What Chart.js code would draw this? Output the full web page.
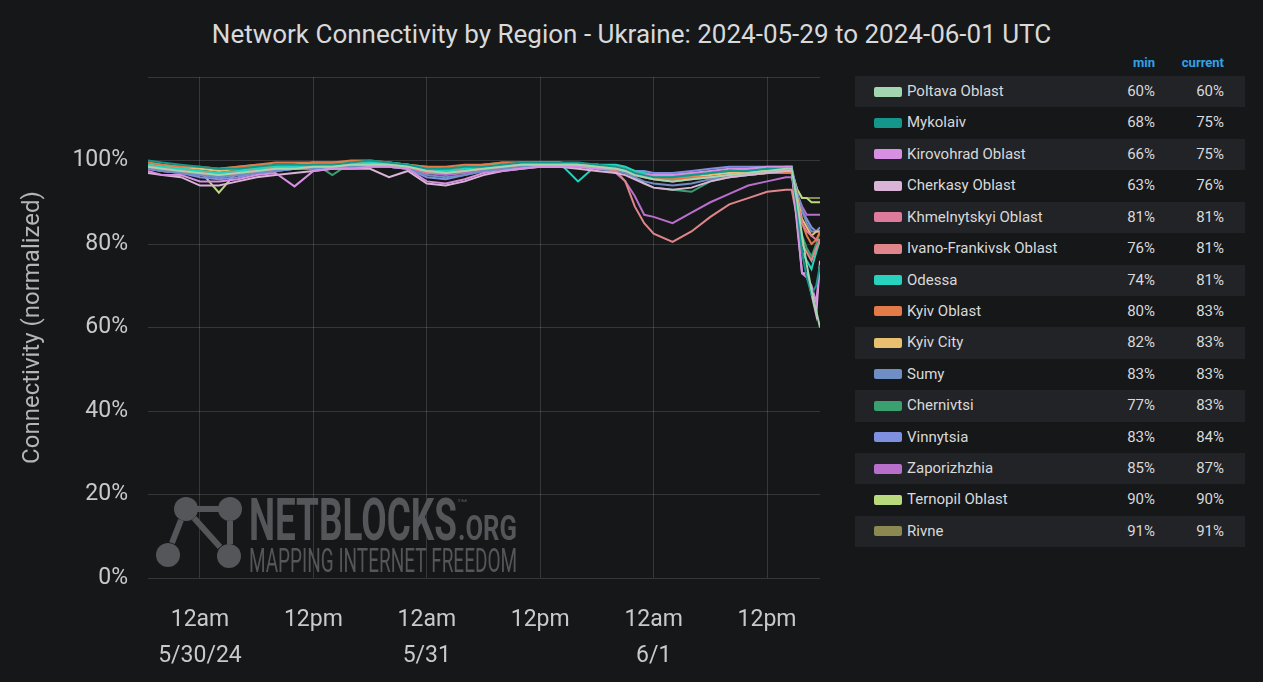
<!DOCTYPE html>
<html lang="en">
<head>
  <meta charset="UTF-8">
  <title>Network Connectivity by Region - Ukraine</title>
  <script src="https://cdn.jsdelivr.net/npm/chart.js"></script>
  <style>
    html, body { margin: 0; padding: 0; background: #161719; }
    #page { position: relative; width: 1263px; height: 682px; overflow: hidden; font-family: Roboto, "Noto Sans", sans-serif; }
    #title { position: absolute; top: 19px; left: 0; width: 1263px; text-align: center; font-size: 26px; line-height: 30px; color: #d8d9da; }
    #chartBox { position: absolute; left: 0; top: 0; width: 840px; height: 682px; }
    #legend { position: absolute; left: 855px; top: 51px; width: 390px; }
    .head { position: relative; height: 25px; color: #33a2e5; font-size: 13px; font-weight: bold; }
    .head span { position: absolute; top: 4px; }
    .row { position: relative; height: 31.43px; color: #d8d9da; font-size: 15px; }
    .row.alt { background: #222326; }
    .row .sw { position: absolute; left: 19px; top: 10.5px; width: 28px; height: 10px; border-radius: 2px; }
    .row .nm { position: absolute; left: 52px; top: 6px; }
    .row .mn { position: absolute; right: 90px; top: 6px; }
    .row .cu { position: absolute; right: 21px; top: 6px; }
  </style>
</head>
<body>
<div id="page">
  <div id="title">Network Connectivity by Region - Ukraine: 2024-05-29 to 2024-06-01 UTC</div>
  <div id="chartBox"><canvas id="conn" width="840" height="682"></canvas></div>
  <div id="legend">
    <div class="head"><span style="right:90px">min</span><span style="right:21px">current</span></div>
  </div>
</div>

<script>
  // hours since 2024-05-30 00:00 UTC
  const hours = [
    -5.5, -4, -2, 0, 2, 4, 6, 8, 10, 12, 14,
    16, 18, 20, 22, 24, 26, 28, 30, 32, 34, 36,
    38, 40, 42, 44, 45, 46, 47, 48, 50, 52, 54,
    56, 58, 60, 62, 62.6, 63.2, 63.7, 64.2, 64.7, 65.2, 65.6
  ];

  const regions = ['Poltava Oblast', 'Mykolaiv', 'Kirovohrad Oblast', 'Cherkasy Oblast', 'Khmelnytskyi Oblast',
    'Ivano-Frankivsk Oblast', 'Odessa', 'Kyiv Oblast', 'Kyiv City', 'Sumy', 'Chernivtsi', 'Vinnytsia',
    'Zaporizhzhia', 'Ternopil Oblast', 'Rivne'];

  const colors = ['#a1d6ae', '#14968a', '#d78fe3', '#dab4d6', '#de7a9c', '#e0868a', '#27d3bf', '#e37b48',
    '#e9c070', '#6e8ec4', '#3aa070', '#8090e0', '#b86fcb', '#b9da7c', '#8c8852'];

  const minPct = [60, 68, 66, 63, 81, 76, 74, 80, 82, 83, 77, 83, 85, 90, 91];
  const curPct = [60, 75, 75, 76, 81, 81, 81, 83, 83, 83, 83, 84, 87, 90, 91];

  const poltava = [
    98.5, 98, 97.5, 97, 96.5, 97, 97.5, 98, 98, 98.5, 98.5,
    99, 99, 99, 98.5, 97.5, 97, 97.5, 98, 98.5, 99, 99,
    99, 99, 98.5, 98, 97.5, 96.5, 96, 95.5, 95, 95.5, 96,
    96.5, 97, 97.5, 98, 98, 90, 82, 75, 69, 64, 60];
  const mykolaiv = [
    100, 99.5, 99, 98.5, 98, 98, 98.5, 99, 99, 99, 99,
    99.5, 100, 99.5, 99, 98, 98, 98.5, 98.5, 99, 99.5, 99.5,
    99.5, 99.5, 99, 98.5, 98, 97, 96.5, 96, 96, 96.5, 97,
    97.5, 97.5, 98, 98, 98, 88, 78, 72, 68, 70, 75];
  const kirovohrad = [
    97.5, 96.5, 96.5, 95, 95, 95.5, 96.5, 97, 93.8, 97.5, 98,
    98, 98.5, 98.5, 98, 95, 94.5, 95.5, 97, 97.5, 98, 98.5,
    98.5, 98.5, 98, 98, 97.5, 97, 96.5, 96.5, 96.5, 97, 97.5,
    98, 98, 98.5, 98.5, 98.5, 85, 73, 72, 70, 66, 75];
  const cherkasy = [
    97, 96.5, 96, 94, 94, 95, 96, 96.5, 97, 97.5, 98,
    98, 98, 96, 97.5, 94.5, 94, 95, 96.5, 97.5, 98, 98.5,
    98.5, 98, 97.5, 97, 96.5, 95.5, 94.5, 93.5, 93, 93.5, 95,
    96, 96.5, 97, 97.5, 97.5, 84, 73, 73, 68, 63, 76];
  const khmelnytskyi = [
    98.5, 98, 97.5, 97, 96.5, 97, 97.5, 98, 98, 98.5, 98.5,
    99, 99, 99, 98.5, 97, 97, 97.5, 98, 98.5, 99, 99,
    99, 99, 98.5, 98, 97.5, 96.5, 96, 95.5, 95, 95.5, 96,
    96.5, 97, 97, 97.5, 97.5, 90, 85, 83, 82, 81, 81];
  const ivanoFrankivsk = [
    98.5, 98, 97.5, 97, 96.5, 97, 97.5, 98, 98, 98.5, 98.5,
    99, 99, 99, 98.5, 97.5, 97, 97.5, 98, 98.5, 99, 99,
    99, 99, 98.5, 97.5, 95, 89, 85, 82.5, 80.5, 83, 86.5,
    89.5, 91, 92.5, 93, 93, 86, 80, 78, 76, 79, 81];
  const odessa = [
    99, 98.5, 98, 97.5, 97, 97.5, 98, 98.5, 98.5, 99, 99,
    99, 99.5, 99.5, 99, 98, 97.5, 98, 98.5, 99, 99, 99.5,
    99.5, 95, 99, 99, 98.5, 97.5, 97, 96.5, 96, 96.5, 97,
    97.5, 98, 98, 98.5, 98.5, 86, 78, 76, 74, 78, 81];
  const kyivOblast = [
    99.5, 99, 98.5, 98.5, 98, 98.5, 99, 99.5, 99.5, 99.5, 99.5,
    100, 100, 99.5, 99, 98.5, 98.5, 99, 99, 99.5, 99.5, 99.5,
    99, 99, 98.5, 98, 97.5, 97, 96.5, 96, 95.5, 96, 96,
    96.5, 96.5, 97, 97, 97, 90, 85, 82, 80, 81, 83];
  const kyivCity = [
    99, 98.5, 98.5, 98, 97.5, 98, 98.5, 99, 99, 99.5, 99.5,
    99.5, 99.5, 99, 99, 98, 98, 98.5, 99, 99, 99.5, 99.5,
    99.5, 99, 99, 98.5, 98, 97, 96.5, 96, 95.5, 96, 96.5,
    97, 97, 97.5, 97.5, 97, 91, 86, 84, 82, 83, 83];
  const sumy = [
    98, 97.5, 97, 96.5, 96, 96.5, 97, 97.5, 98, 98, 98,
    98.5, 98.5, 98.5, 98, 96.5, 96, 96.5, 97.5, 98, 98.5, 98.5,
    98.5, 98.5, 98, 97.5, 97, 96, 95, 94.5, 94, 94.5, 95.5,
    96, 96.5, 97, 97.5, 97.5, 92, 88, 85, 83, 83, 83];
  const chernivtsi = [
    99.5, 99, 98.5, 98, 98, 98.5, 99, 99, 99, 99.5, 96.5,
    99.5, 99.5, 99.5, 99, 98.5, 98, 98.5, 99, 99.5, 99.5, 99.5,
    99.5, 99, 99, 98.5, 97.5, 96, 94.5, 93.5, 93, 92.5, 95,
    96, 96.5, 97, 97.5, 97, 88, 82, 79, 77, 80, 83];
  const vinnytsia = [
    98, 97.5, 97, 96, 95.5, 96, 97, 97.5, 98, 98, 98.5,
    98.5, 99, 98.5, 98, 96, 95.5, 96.5, 97.5, 98, 98.5, 99,
    99, 99, 98.5, 98.5, 98, 97.5, 97.5, 97, 97, 97.5, 98,
    98.5, 98.5, 98.5, 98.5, 98.5, 92, 88, 86, 84, 83, 84];
  const zaporizhzhia = [
    98, 97.5, 97, 96.5, 96, 96.5, 97, 97.5, 98, 98, 98.5,
    98.5, 99, 98.5, 98, 97, 96.5, 97, 97.5, 98, 98.5, 99,
    99, 99, 98.5, 97, 95, 91.5, 87, 86.5, 85, 87.5, 90,
    92, 94, 95, 96, 96, 92, 89, 87, 87, 87, 87];
  const ternopil = [
    99, 98.5, 98, 97.5, 92.3, 97.5, 98, 98.5, 98.5, 99, 99,
    99, 99.5, 99, 98.5, 97.5, 97, 97.5, 98, 98.5, 99, 99,
    99, 99, 98.5, 98, 97.5, 97, 96.5, 96, 96, 96.5, 97,
    97, 97.5, 97.5, 98, 97.5, 93, 91, 91, 90, 90, 90];
  const rivne = [
    99, 98.5, 98, 97.5, 97, 97.5, 98, 98.5, 99, 99, 99,
    99.5, 99.5, 99, 98.5, 97.5, 97.5, 98, 98.5, 99, 99, 99.5,
    99.5, 99, 99, 98.5, 98, 97.5, 97, 96.5, 96.5, 97, 97,
    97.5, 97.5, 97.5, 98, 97.5, 93, 91, 91, 91, 91, 91];

  const series = [poltava, mykolaiv, kirovohrad, cherkasy, khmelnytskyi, ivanoFrankivsk, odessa,
    kyivOblast, kyivCity, sumy, chernivtsi, vinnytsia, zaporizhzhia, ternopil, rivne];

  const tickHours = [0, 12, 24, 36, 48, 60];
  const tickLabels = [['12am', '5/30/24'], ['12pm'], ['12am', '5/31'], ['12pm'], ['12am', '6/1'], ['12pm']];
  const yTicks = [0, 20, 40, 60, 80, 100, 120];

  // legend table on the right
  const legend = document.getElementById('legend');
  regions.forEach(function(name, i) {
    const row = document.createElement('div');
    row.className = 'row' + (i % 2 === 0 ? ' alt' : '');
    row.innerHTML = '<span class="sw" style="background:' + colors[i] + '"></span>' +
      '<span class="nm">' + name + '</span>' +
      '<span class="mn">' + minPct[i] + '%</span>' +
      '<span class="cu">' + curPct[i] + '%</span>';
    legend.appendChild(row);
  });

  // NETBLOCKS watermark, drawn after the grid and before the lines
  function fitText(ctx, text, x, baseline, width, font) {
    ctx.font = font;
    const w = ctx.measureText(text).width;
    ctx.save();
    ctx.translate(x, baseline);
    ctx.scale(width / w, 1);
    ctx.fillText(text, 0, 0);
    ctx.restore();
  }

  const watermark = {
    id: 'watermark',
    beforeDatasetsDraw(chart) {
      const ctx = chart.ctx;
      ctx.save();
      ctx.fillStyle = '#55565a';
      ctx.strokeStyle = '#55565a';
      ctx.lineWidth = 6;
      ctx.beginPath();
      ctx.moveTo(197, 509); ctx.lineTo(219, 509);
      ctx.moveTo(181, 520); ctx.lineTo(172, 543);
      ctx.moveTo(194, 518); ctx.lineTo(220, 547);
      ctx.moveTo(230, 521); ctx.lineTo(230, 544);
      ctx.stroke();
      [[186, 509], [230, 509], [168, 555], [229, 556]].forEach(function(c) {
        ctx.beginPath();
        ctx.arc(c[0], c[1], 12, 0, Math.PI * 2);
        ctx.fill();
      });
      ctx.textBaseline = 'alphabetic';
      fitText(ctx, 'NETBLOCKS', 249, 540, 208, 'bold 59px Roboto');
      fitText(ctx, '.ORG', 458, 540, 59, 'bold 35px Roboto');
      fitText(ctx, '™', 456, 507, 12, '11px Roboto');
      fitText(ctx, 'MAPPING INTERNET FREEDOM', 249, 572, 268, '33px Roboto');
      ctx.restore();
    }
  };

  const ctx = document.getElementById('conn').getContext('2d');
  new Chart(ctx, {
    type: 'line',
    data: {
      datasets: regions.map(function(name, i) {
        return {
          label: name,
          data: hours.map(function(h, k) { return { x: h, y: series[i][k] }; }),
          borderColor: colors[i],
          backgroundColor: colors[i],
          borderWidth: 2,
          pointRadius: 0,
          tension: 0,
          fill: false
        };
      })
    },
    options: {
      responsive: false,
      animation: false,
      layout: { padding: { top: 77, right: 20, bottom: 0, left: 0 } },
      plugins: {
        legend: { display: false },
        tooltip: { enabled: false }
      },
      scales: {
        x: {
          type: 'linear',
          min: -5.5,
          max: 65.6,
          afterBuildTicks: function(scale) {
            scale.ticks = tickHours.map(function(v) { return { value: v }; });
          },
          afterFit: function(scale) { scale.height = 104; },
          grid: { color: 'rgba(255,255,255,0.14)', drawTicks: false },
          border: { display: false },
          ticks: {
            autoSkip: false,
            maxRotation: 0,
            padding: 24,
            color: '#c8c9ca',
            font: { family: 'Roboto', size: 23, lineHeight: '36px' },
            callback: function(value) {
              const i = tickHours.indexOf(value);
              return i < 0 ? '' : tickLabels[i];
            }
          }
        },
        y: {
          min: 0,
          max: 120,
          afterBuildTicks: function(scale) {
            scale.ticks = yTicks.map(function(v) { return { value: v }; });
          },
          afterFit: function(scale) { scale.width = 148; },
          grid: { color: 'rgba(255,255,255,0.14)', drawTicks: false },
          border: { display: false },
          title: {
            display: true,
            text: 'Connectivity (normalized)',
            color: '#b4b5b7',
            font: { family: 'Roboto', size: 24 },
            padding: { top: 19, bottom: 0 }
          },
          ticks: {
            padding: 20,
            color: '#c8c9ca',
            font: { family: 'Roboto', size: 23 },
            callback: function(value) { return value === 120 ? '' : value + '%'; }
          }
        }
      }
    },
    plugins: [watermark]
  });
</script>
</body>
</html>
